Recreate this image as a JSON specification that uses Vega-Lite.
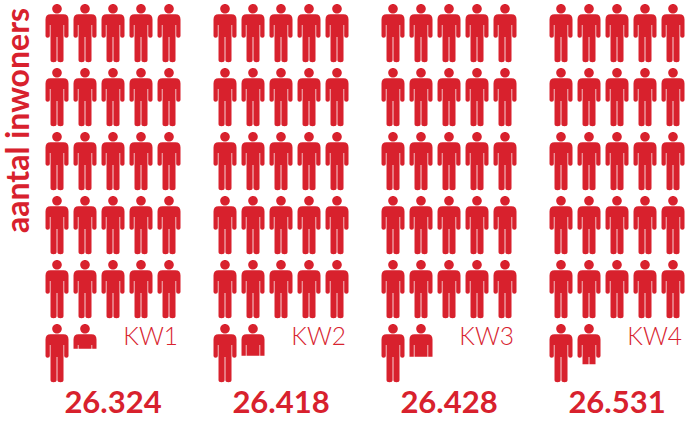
{"$schema":"https://vega.github.io/schema/vega-lite/v6.json","width":686,"height":421,"autosize":{"type":"fit","contains":"padding"},"padding":0,"background":"white","view":{"stroke":null},
"encoding":{"x":{"field":"col","type":"quantitative","scale":{"domain":[-2.036,22.464]},"axis":null},"y":{"field":"row","type":"quantitative","scale":{"domain":[-0.516,6.0625],"reverse":true},"axis":null}},
"layer":[
{"data":{"values":[
{"week":"KW1","col":0,"row":0,"part":"full"},{"week":"KW1","col":1,"row":0,"part":"full"},{"week":"KW1","col":2,"row":0,"part":"full"},{"week":"KW1","col":3,"row":0,"part":"full"},{"week":"KW1","col":4,"row":0,"part":"full"},
{"week":"KW1","col":0,"row":1,"part":"full"},{"week":"KW1","col":1,"row":1,"part":"full"},{"week":"KW1","col":2,"row":1,"part":"full"},{"week":"KW1","col":3,"row":1,"part":"full"},{"week":"KW1","col":4,"row":1,"part":"full"},
{"week":"KW1","col":0,"row":2,"part":"full"},{"week":"KW1","col":1,"row":2,"part":"full"},{"week":"KW1","col":2,"row":2,"part":"full"},{"week":"KW1","col":3,"row":2,"part":"full"},{"week":"KW1","col":4,"row":2,"part":"full"},
{"week":"KW1","col":0,"row":3,"part":"full"},{"week":"KW1","col":1,"row":3,"part":"full"},{"week":"KW1","col":2,"row":3,"part":"full"},{"week":"KW1","col":3,"row":3,"part":"full"},{"week":"KW1","col":4,"row":3,"part":"full"},
{"week":"KW1","col":0,"row":4,"part":"full"},{"week":"KW1","col":1,"row":4,"part":"full"},{"week":"KW1","col":2,"row":4,"part":"full"},{"week":"KW1","col":3,"row":4,"part":"full"},{"week":"KW1","col":4,"row":4,"part":"full"},
{"week":"KW1","col":0,"row":5,"part":"full"},{"week":"KW1","col":1,"row":5,"part":"p324"},
{"week":"KW2","col":6,"row":0,"part":"full"},{"week":"KW2","col":7,"row":0,"part":"full"},{"week":"KW2","col":8,"row":0,"part":"full"},{"week":"KW2","col":9,"row":0,"part":"full"},{"week":"KW2","col":10,"row":0,"part":"full"},
{"week":"KW2","col":6,"row":1,"part":"full"},{"week":"KW2","col":7,"row":1,"part":"full"},{"week":"KW2","col":8,"row":1,"part":"full"},{"week":"KW2","col":9,"row":1,"part":"full"},{"week":"KW2","col":10,"row":1,"part":"full"},
{"week":"KW2","col":6,"row":2,"part":"full"},{"week":"KW2","col":7,"row":2,"part":"full"},{"week":"KW2","col":8,"row":2,"part":"full"},{"week":"KW2","col":9,"row":2,"part":"full"},{"week":"KW2","col":10,"row":2,"part":"full"},
{"week":"KW2","col":6,"row":3,"part":"full"},{"week":"KW2","col":7,"row":3,"part":"full"},{"week":"KW2","col":8,"row":3,"part":"full"},{"week":"KW2","col":9,"row":3,"part":"full"},{"week":"KW2","col":10,"row":3,"part":"full"},
{"week":"KW2","col":6,"row":4,"part":"full"},{"week":"KW2","col":7,"row":4,"part":"full"},{"week":"KW2","col":8,"row":4,"part":"full"},{"week":"KW2","col":9,"row":4,"part":"full"},{"week":"KW2","col":10,"row":4,"part":"full"},
{"week":"KW2","col":6,"row":5,"part":"full"},{"week":"KW2","col":7,"row":5,"part":"p418"},
{"week":"KW3","col":12,"row":0,"part":"full"},{"week":"KW3","col":13,"row":0,"part":"full"},{"week":"KW3","col":14,"row":0,"part":"full"},{"week":"KW3","col":15,"row":0,"part":"full"},{"week":"KW3","col":16,"row":0,"part":"full"},
{"week":"KW3","col":12,"row":1,"part":"full"},{"week":"KW3","col":13,"row":1,"part":"full"},{"week":"KW3","col":14,"row":1,"part":"full"},{"week":"KW3","col":15,"row":1,"part":"full"},{"week":"KW3","col":16,"row":1,"part":"full"},
{"week":"KW3","col":12,"row":2,"part":"full"},{"week":"KW3","col":13,"row":2,"part":"full"},{"week":"KW3","col":14,"row":2,"part":"full"},{"week":"KW3","col":15,"row":2,"part":"full"},{"week":"KW3","col":16,"row":2,"part":"full"},
{"week":"KW3","col":12,"row":3,"part":"full"},{"week":"KW3","col":13,"row":3,"part":"full"},{"week":"KW3","col":14,"row":3,"part":"full"},{"week":"KW3","col":15,"row":3,"part":"full"},{"week":"KW3","col":16,"row":3,"part":"full"},
{"week":"KW3","col":12,"row":4,"part":"full"},{"week":"KW3","col":13,"row":4,"part":"full"},{"week":"KW3","col":14,"row":4,"part":"full"},{"week":"KW3","col":15,"row":4,"part":"full"},{"week":"KW3","col":16,"row":4,"part":"full"},
{"week":"KW3","col":12,"row":5,"part":"full"},{"week":"KW3","col":13,"row":5,"part":"p428"},
{"week":"KW4","col":18,"row":0,"part":"full"},{"week":"KW4","col":19,"row":0,"part":"full"},{"week":"KW4","col":20,"row":0,"part":"full"},{"week":"KW4","col":21,"row":0,"part":"full"},{"week":"KW4","col":22,"row":0,"part":"full"},
{"week":"KW4","col":18,"row":1,"part":"full"},{"week":"KW4","col":19,"row":1,"part":"full"},{"week":"KW4","col":20,"row":1,"part":"full"},{"week":"KW4","col":21,"row":1,"part":"full"},{"week":"KW4","col":22,"row":1,"part":"full"},
{"week":"KW4","col":18,"row":2,"part":"full"},{"week":"KW4","col":19,"row":2,"part":"full"},{"week":"KW4","col":20,"row":2,"part":"full"},{"week":"KW4","col":21,"row":2,"part":"full"},{"week":"KW4","col":22,"row":2,"part":"full"},
{"week":"KW4","col":18,"row":3,"part":"full"},{"week":"KW4","col":19,"row":3,"part":"full"},{"week":"KW4","col":20,"row":3,"part":"full"},{"week":"KW4","col":21,"row":3,"part":"full"},{"week":"KW4","col":22,"row":3,"part":"full"},
{"week":"KW4","col":18,"row":4,"part":"full"},{"week":"KW4","col":19,"row":4,"part":"full"},{"week":"KW4","col":20,"row":4,"part":"full"},{"week":"KW4","col":21,"row":4,"part":"full"},{"week":"KW4","col":22,"row":4,"part":"full"},
{"week":"KW4","col":18,"row":5,"part":"full"},{"week":"KW4","col":19,"row":5,"part":"p531"}
]},
"mark":{"type":"point","filled":true,"size":4,"color":"#D8212D","opacity":1,"strokeWidth":0},
"encoding":{"shape":{"field":"part","type":"nominal","legend":null,"scale":{"domain":["full","p324","p418","p428","p531"],"range":[
"M0 -29 A4.8 4.8 0 1 1 0 -19.4 A4.8 4.8 0 1 1 0 -29 Z M-6.5 -18.7 L6.5 -18.7 Q11.5 -18.7 11.5 -13.5 L11.5 3 Q11.5 4.7 9.35 4.7 Q7.2 4.7 7.2 3 L7.2 -8 L6.5 -8 L6.5 27 Q6.5 29.2 3.5 29.2 Q0.4 29.2 0.4 27 L0.4 4 L-0.4 4 L-0.4 27 Q-0.4 29.2 -3.5 29.2 Q-6.5 29.2 -6.5 27 L-6.5 -8 L-7.2 -8 L-7.2 3 Q-7.2 4.7 -9.35 4.7 Q-11.5 4.7 -11.5 3 L-11.5 -13.5 Q-11.5 -18.7 -6.5 -18.7 Z",
"M0 -29 A4.8 4.8 0 1 1 0 -19.4 A4.8 4.8 0 1 1 0 -29 Z M-6.5 -18.7 L6.5 -18.7 Q11.5 -18.7 11.5 -13.5 L11.5 -4.3 L7.2 -4.3 L7.2 -8 L6.5 -8 L6.5 -4.3 L-6.5 -4.3 L-6.5 -8 L-7.2 -8 L-7.2 -4.3 L-11.5 -4.3 L-11.5 -13.5 Q-11.5 -18.7 -6.5 -18.7 Z",
"M0 -29 A4.8 4.8 0 1 1 0 -19.4 A4.8 4.8 0 1 1 0 -29 Z M-6.5 -18.7 L6.5 -18.7 Q11.5 -18.7 11.5 -13.5 L11.5 2.7 L7.2 2.7 L7.2 -8 L6.5 -8 L6.5 2.7 L-6.5 2.7 L-6.5 -8 L-7.2 -8 L-7.2 2.7 L-11.5 2.7 L-11.5 -13.5 Q-11.5 -18.7 -6.5 -18.7 Z",
"M0 -29 A4.8 4.8 0 1 1 0 -19.4 A4.8 4.8 0 1 1 0 -29 Z M-6.5 -18.7 L6.5 -18.7 Q11.5 -18.7 11.5 -13.5 L11.5 3.7 L7.2 3.7 L7.2 -8 L6.5 -8 L6.5 3.7 L-6.5 3.7 L-6.5 -8 L-7.2 -8 L-7.2 3.7 L-11.5 3.7 L-11.5 -13.5 Q-11.5 -18.7 -6.5 -18.7 Z",
"M0 -29 A4.8 4.8 0 1 1 0 -19.4 A4.8 4.8 0 1 1 0 -29 Z M-6.5 -18.7 L6.5 -18.7 Q11.5 -18.7 11.5 -13.5 L11.5 3 Q11.5 4.7 9.35 4.7 Q7.2 4.7 7.2 3 L7.2 -8 L6.5 -8 L6.5 11.3 L0.4 11.3 L0.4 4 L-0.4 4 L-0.4 11.3 L-6.5 11.3 L-6.5 -8 L-7.2 -8 L-7.2 3 Q-7.2 4.7 -9.35 4.7 Q-11.5 4.7 -11.5 3 L-11.5 -13.5 Q-11.5 -18.7 -6.5 -18.7 Z"
]}}}},
{"data":{"values":[{"week":"KW1","col":4,"row":5},{"week":"KW2","col":10,"row":5},{"week":"KW3","col":16,"row":5},{"week":"KW4","col":22,"row":5}]},
"mark":{"type":"text","font":"Lato","fontWeight":300,"fontSize":24.5,"align":"right","baseline":"alphabetic","dx":9,"dy":-8,"color":"#D8212D","opacity":0.99},
"encoding":{"text":{"field":"week","type":"nominal"}}},
{"data":{"values":[{"total":"26.324","col":2,"row":6},{"total":"26.418","col":8,"row":6},{"total":"26.428","col":14,"row":6},{"total":"26.531","col":20,"row":6}]},
"mark":{"type":"text","font":"Lato","fontWeight":700,"fontSize":31,"align":"center","baseline":"alphabetic","dy":-3.7,"color":"#D8212D"},
"encoding":{"text":{"field":"total","type":"nominal"}}},
{"data":{"values":[{"label":"aantal inwoners","col":-1.018,"row":3.125}]},
"mark":{"type":"text","font":"Lato","fontWeight":700,"fontSize":32,"align":"left","baseline":"alphabetic","angle":270,"color":"#D8212D"},
"encoding":{"text":{"field":"label","type":"nominal"}}}
]}
